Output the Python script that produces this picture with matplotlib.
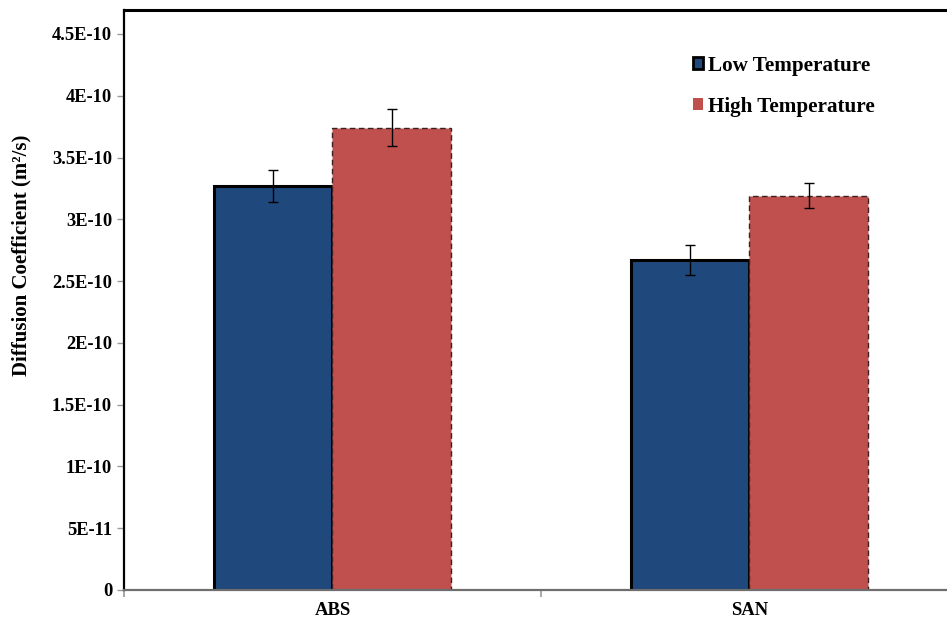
import matplotlib
matplotlib.use("Agg")
import matplotlib.pyplot as plt
from matplotlib.patches import Patch
import numpy as np

plt.rcParams["font.family"] = ["Liberation Serif", "DejaVu Serif"]
plt.rcParams["font.weight"] = "bold"

materials = ["ABS", "SAN"]
low_temp = [3.27e-10, 2.67e-10]
low_err = [1.3e-11, 1.2e-11]
high_temp = [3.74e-10, 3.19e-10]
high_err = [1.5e-11, 1.0e-11]
series_names = ["Low Temperature", "High Temperature"]
yticks = np.arange(0, 4.51e-10, 5e-11)
ytick_labels = ["0", "5E-11", "1E-10", "1.5E-10", "2E-10", "2.5E-10",
                "3E-10", "3.5E-10", "4E-10", "4.5E-10"]

blue = "#1F497D"
red = "#C0504D"

fig = plt.figure(figsize=(9.47, 6.23), dpi=100)
ax = fig.add_axes([0.1309, 0.053, 0.8807, 0.931])

x = np.arange(len(materials))
w = 0.285
ax.bar(x - w / 2, low_temp, w, color=blue, edgecolor="black", linewidth=2.2,
       zorder=2)
ax.bar(x + w / 2, high_temp, w, color=red, edgecolor="#3a2020", linewidth=1.0,
       linestyle=(0, (4, 2.5)), zorder=2)
ax.errorbar(x - w / 2, low_temp, yerr=low_err, fmt="none", ecolor="black",
            elinewidth=1, capsize=3.5, capthick=1, zorder=3)
ax.errorbar(x + w / 2, high_temp, yerr=high_err, fmt="none", ecolor="black",
            elinewidth=1, capsize=3.5, capthick=1, zorder=3)

ax.set_xlim(-0.5, 1.5)
ax.set_ylim(0, 4.694e-10)
ax.set_yticks(yticks)
ax.set_yticklabels(ytick_labels)
ax.set_xticks(x)
ax.set_xticklabels(materials)
ax.set_xticks([-0.5, 0.5, 1.5], minor=True)
ax.tick_params(axis="x", which="major", length=0, pad=9, labelsize=13.5)
ax.tick_params(axis="x", which="minor", length=5, color="#9a9a9a", width=1.2)
ax.tick_params(axis="y", length=5, color="#9a9a9a", width=1, pad=3.5,
               labelsize=13.3)

ax.spines["top"].set_linewidth(2.2)
ax.spines["top"].set_color("black")
ax.spines["left"].set_linewidth(1.6)
ax.spines["left"].set_color("black")
ax.spines["bottom"].set_linewidth(1.6)
ax.spines["bottom"].set_color("#6e6e6e")
ax.spines["right"].set_visible(False)

fig.text(0.023, 0.59, "Diffusion Coefficient (m²/s)", rotation=90,
         ha="center", va="center", fontsize=15, fontweight="bold")

handles = [Patch(facecolor=blue, edgecolor="black", linewidth=2),
           Patch(facecolor=red, edgecolor="none")]
ax.legend(handles, series_names, loc="upper left",
          bbox_to_anchor=(0.659, 0.954), frameon=False, fontsize=15.2,
          handlelength=0.5, handleheight=0.5, handletextpad=0.25,
          labelspacing=1.0)

fig.savefig("out.png", dpi=100)
